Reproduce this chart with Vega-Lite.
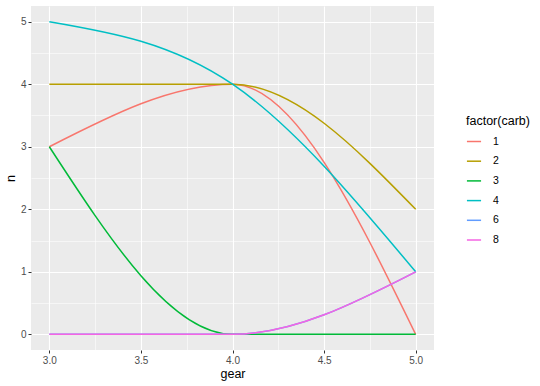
{
  "$schema": "https://vega.github.io/schema/vega-lite/v6.json",
  "width": 403,
  "height": 344,
  "autosize": "none",
  "padding": {"left": 31, "top": 6, "right": 106, "bottom": 36},
  "background": "white",
  "config": {
    "font": "Liberation Sans",
    "view": {"fill": "#EBEBEB", "stroke": null}
  },
  "data": {
    "values": [
      {"gear": 3, "carb": "1", "n": 3}, {"gear": 4, "carb": "1", "n": 4}, {"gear": 5, "carb": "1", "n": 0},
      {"gear": 3, "carb": "2", "n": 4}, {"gear": 4, "carb": "2", "n": 4}, {"gear": 5, "carb": "2", "n": 2},
      {"gear": 3, "carb": "3", "n": 3}, {"gear": 4, "carb": "3", "n": 0}, {"gear": 5, "carb": "3", "n": 0},
      {"gear": 3, "carb": "4", "n": 5}, {"gear": 4, "carb": "4", "n": 4}, {"gear": 5, "carb": "4", "n": 1},
      {"gear": 3, "carb": "6", "n": 0}, {"gear": 4, "carb": "6", "n": 0}, {"gear": 5, "carb": "6", "n": 1},
      {"gear": 3, "carb": "8", "n": 0}, {"gear": 4, "carb": "8", "n": 0}, {"gear": 5, "carb": "8", "n": 1}
    ]
  },
  "mark": {"type": "line", "interpolate": "monotone", "strokeWidth": 1.5},
  "encoding": {
    "x": {
      "field": "gear", "type": "quantitative",
      "scale": {"domain": [2.9, 5.1], "nice": false, "zero": false},
      "axis": {
        "title": "gear",
        "values": [3, 3.25, 3.5, 3.75, 4, 4.25, 4.5, 4.75, 5],
        "labelExpr": "(datum.value * 2) % 1 === 0 ? format(datum.value, '.1f') : ''",
        "domain": false,
        "grid": true,
        "gridColor": "white",
        "gridWidth": {"condition": {"test": "(datum.value * 2) % 1 === 0", "value": 1.1}, "value": 0.55},
        "tickColor": "#333333",
        "tickSize": 3,
        "tickWidth": 1,
        "tickOpacity": {"condition": {"test": "(datum.value * 2) % 1 === 0", "value": 1}, "value": 0},
        "labelColor": "#4D4D4D",
        "labelFontSize": 10,
        "labelPadding": 2,
        "labelFlush": false,
        "labelOverlap": false,
        "titleFontSize": 12.5,
        "titleFontWeight": "normal",
        "titleColor": "black",
        "titlePadding": 2
      }
    },
    "y": {
      "field": "n", "type": "quantitative",
      "scale": {"domain": [-0.25, 5.25], "nice": false, "zero": false},
      "axis": {
        "title": "n",
        "values": [0, 0.5, 1, 1.5, 2, 2.5, 3, 3.5, 4, 4.5, 5],
        "labelExpr": "datum.value % 1 === 0 ? format(datum.value, 'd') : ''",
        "domain": false,
        "grid": true,
        "gridColor": "white",
        "gridWidth": {"condition": {"test": "datum.value % 1 === 0", "value": 1.1}, "value": 0.55},
        "tickColor": "#333333",
        "tickSize": 3,
        "tickWidth": 1,
        "tickOpacity": {"condition": {"test": "datum.value % 1 === 0", "value": 1}, "value": 0},
        "labelColor": "#4D4D4D",
        "labelFontSize": 10,
        "labelPadding": 2,
        "labelFlush": false,
        "labelOverlap": false,
        "titleFontSize": 12.5,
        "titleFontWeight": "normal",
        "titleColor": "black",
        "titleAngle": -90,
        "titlePadding": 3
      }
    },
    "color": {
      "field": "carb", "type": "nominal",
      "scale": {
        "domain": ["1", "2", "3", "4", "6", "8"],
        "range": ["#F8766D", "#B79F00", "#00BA38", "#00BFC4", "#619CFF", "#F564E3"]
      },
      "legend": {
        "title": "factor(carb)",
        "orient": "none",
        "legendX": 435,
        "legendY": 109,
        "symbolType": "stroke",
        "symbolStrokeWidth": 1.5,
        "symbolSize": 200,
        "rowPadding": 5.7,
        "labelOffset": 11,
        "labelFontSize": 10.5,
        "labelColor": "black",
        "titleFontSize": 12.5,
        "titleFontWeight": "normal",
        "titleColor": "black",
        "titlePadding": 6
      }
    }
  }
}
